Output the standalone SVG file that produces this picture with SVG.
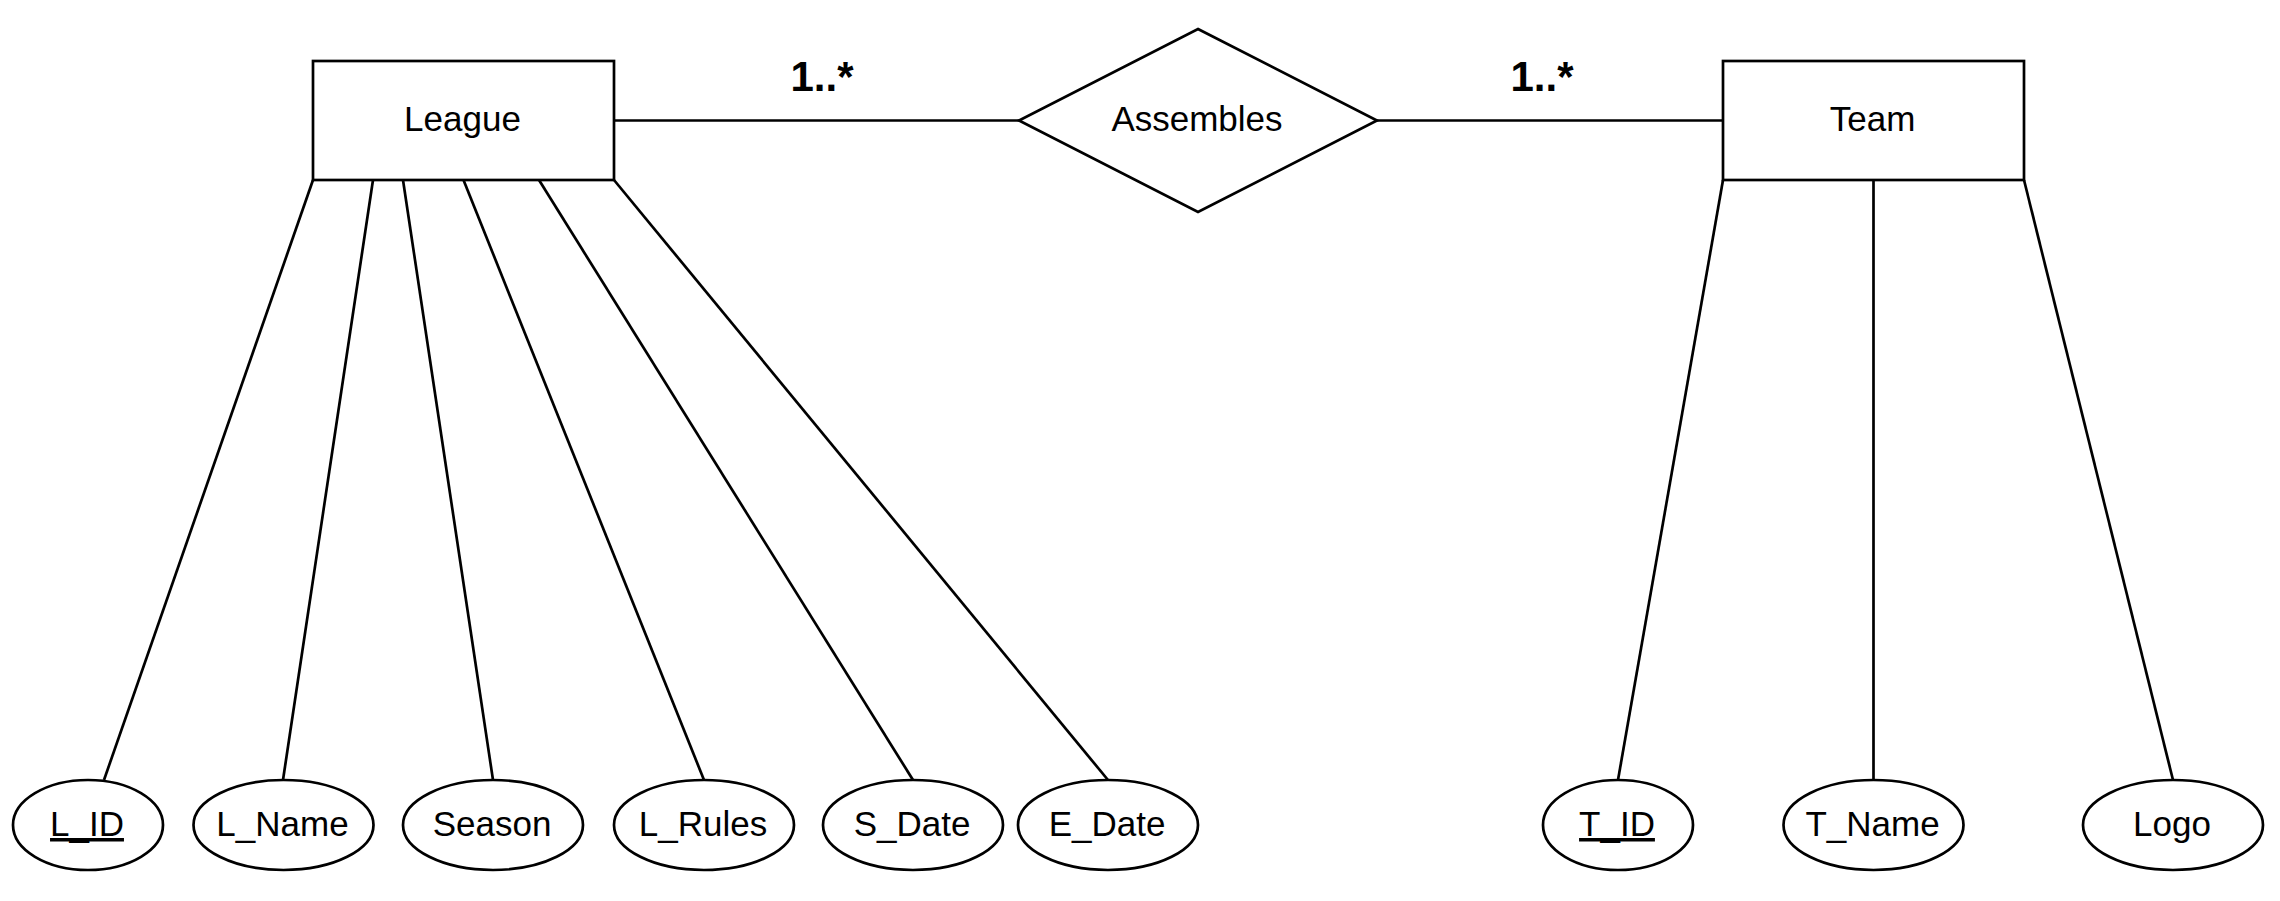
<svg xmlns="http://www.w3.org/2000/svg" width="2280" height="901" viewBox="0 0 2280 901">
<style>
.shape{fill:#fff;stroke:#000;stroke-width:2.7}
.edge{fill:none;stroke:#000;stroke-width:2.7}
.t{font-family:"Liberation Sans",Arial,sans-serif;font-size:35px;fill:#000;text-anchor:middle}
.card{font-family:"Liberation Sans",Arial,sans-serif;font-size:42px;font-weight:bold;fill:#000;text-anchor:middle}
.pk{text-decoration:underline}
</style>
<rect width="2280" height="901" fill="#fff"/>
<g id="connectors">
<line class="edge" x1="614" y1="120.5" x2="1019" y2="120.5"/>
<line class="edge" x1="1377" y1="120.5" x2="1723" y2="120.5"/>
<line class="edge" x1="313" y1="180" x2="104" y2="780"/>
<line class="edge" x1="373" y1="180" x2="283" y2="780"/>
<line class="edge" x1="403" y1="180" x2="493" y2="780"/>
<line class="edge" x1="463.5" y1="180" x2="704" y2="780"/>
<line class="edge" x1="539" y1="180" x2="913" y2="780"/>
<line class="edge" x1="614" y1="180" x2="1108" y2="780"/>
<line class="edge" x1="1723" y1="180" x2="1618" y2="780"/>
<line class="edge" x1="1873.5" y1="180" x2="1873.5" y2="780"/>
<line class="edge" x1="2024" y1="180" x2="2173" y2="780"/>
<text class="card" x="822" y="91">1..*</text>
<text class="card" x="1542" y="91">1..*</text>
</g>
<g id="league">
<rect class="shape" x="313" y="61" width="301" height="119"/>
<text class="t" x="462.5" y="131">League</text>
</g>
<g id="assembles">
<polygon class="shape" points="1198,29 1377,120.5 1198,212 1019,120.5"/>
<text class="t" x="1197" y="131">Assembles</text>
</g>
<g id="team">
<rect class="shape" x="1723" y="61" width="301" height="119"/>
<text class="t" x="1872.5" y="131">Team</text>
</g>
<g id="l_id">
<ellipse class="shape" cx="88" cy="825" rx="75" ry="45"/>
<text class="t pk" x="87" y="836">L_ID</text>
</g>
<g id="l_name">
<ellipse class="shape" cx="283.5" cy="825" rx="90" ry="45"/>
<text class="t" x="282.5" y="836">L_Name</text>
</g>
<g id="season">
<ellipse class="shape" cx="493" cy="825" rx="90" ry="45"/>
<text class="t" x="492" y="836">Season</text>
</g>
<g id="l_rules">
<ellipse class="shape" cx="704" cy="825" rx="90" ry="45"/>
<text class="t" x="703" y="836">L_Rules</text>
</g>
<g id="s_date">
<ellipse class="shape" cx="913" cy="825" rx="90" ry="45"/>
<text class="t" x="912" y="836">S_Date</text>
</g>
<g id="e_date">
<ellipse class="shape" cx="1108" cy="825" rx="90" ry="45"/>
<text class="t" x="1107" y="836">E_Date</text>
</g>
<g id="t_id">
<ellipse class="shape" cx="1618" cy="825" rx="75" ry="45"/>
<text class="t pk" x="1617" y="836">T_ID</text>
</g>
<g id="t_name">
<ellipse class="shape" cx="1873.5" cy="825" rx="90" ry="45"/>
<text class="t" x="1872.5" y="836">T_Name</text>
</g>
<g id="logo">
<ellipse class="shape" cx="2173" cy="825" rx="90" ry="45"/>
<text class="t" x="2172" y="836">Logo</text>
</g>
</svg>
